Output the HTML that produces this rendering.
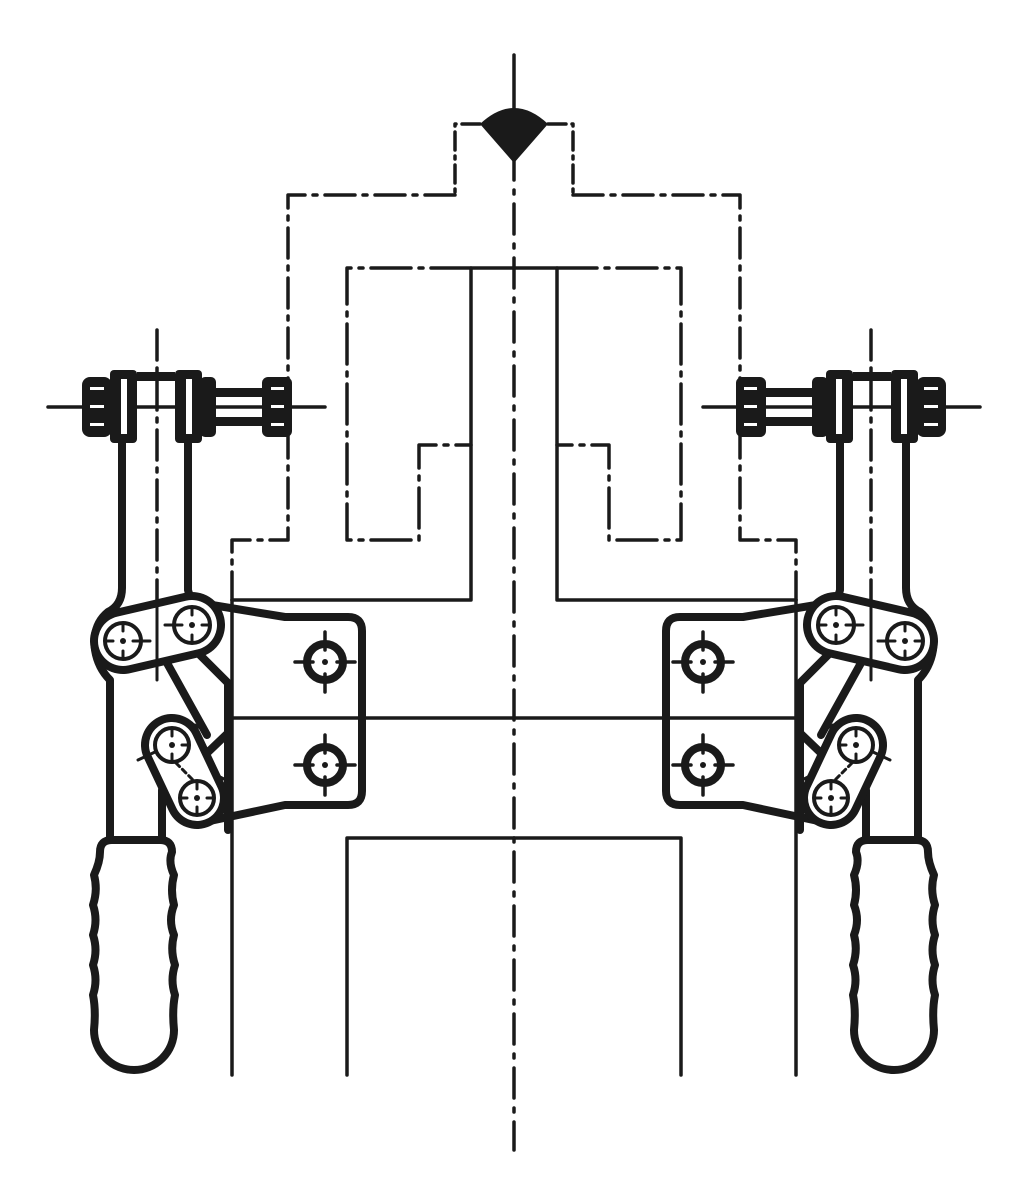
<!DOCTYPE html>
<html><head><style>html,body{margin:0;padding:0;background:#fff;}svg{display:block}</style></head>
<body>
<svg width="1027" height="1200" viewBox="0 0 1027 1200" xmlns="http://www.w3.org/2000/svg">
<defs>
<g id="half" fill="none" stroke="#1a1a1a" stroke-linecap="round" stroke-linejoin="round">
  <g stroke-width="3.5">
    <path d="M480,124 H455 V195" stroke-dasharray="18 6 3 6"/>
    <path d="M455,195 H288 V540 H232 V600" stroke-dasharray="30 8 4 8"/>
    <path d="M232,600 V1075"/>
    <path d="M471,268 H347 V540 H419 V445 H471" stroke-dasharray="40 8 4 8"/>
    <path d="M514,268 H471 V600 H232"/>
    <path d="M232,718 H514"/>
    <path d="M347,1075 V838 H514"/>
    <path d="M48,407 H325"/>
    <path d="M157,330 V600" stroke-dasharray="30 8 4 8"/>
  </g>
  <!-- bolt assembly -->
  <g fill="#1a1a1a" stroke="none">
    <rect x="82" y="377" width="30" height="60" rx="8"/>
    <rect x="110" y="370" width="27" height="73" rx="4"/>
    <rect x="175" y="370" width="27" height="73" rx="4"/>
    <rect x="200" y="377" width="16" height="60" rx="5"/>
    <rect x="262" y="377" width="30" height="60" rx="6"/>
    <rect x="137" y="372" width="38" height="9"/>
    <rect x="215" y="388" width="50" height="9"/>
    <rect x="215" y="417" width="50" height="9"/>
  </g>
  <g fill="#fff" stroke="none">
    <rect x="121" y="379" width="6" height="55"/>
    <rect x="186" y="379" width="6" height="55"/>
    <rect x="90" y="387" width="14" height="3"/><rect x="90" y="405" width="14" height="3"/><rect x="90" y="423" width="14" height="3"/>
    <rect x="271" y="387" width="13" height="3"/><rect x="271" y="405" width="13" height="3"/><rect x="271" y="423" width="13" height="3"/>
  </g>
  <!-- arm -->
  <g stroke-width="8">
    <path d="M122,443 V588 Q122,605 108,612 Q92,625 95,650 Q98,668 110,680 V838"/>
    <path d="M188,443 V590 Q190,600 200,603"/>
    <path d="M167,663 L207,735"/>
    <path d="M200,655 L228,683 V830"/>
    <path d="M205,755 L228,733"/>
    <path d="M162,790 V838"/>
    <path d="M200,603 L285,617 H348 Q362,617 362,631 V791 Q362,805 348,805 H285 L205,822"/>
    <path d="M100,852 Q100,840 112,840 H160 Q172,840 172,852 Q168,862 174,875 Q170,890 174,905 Q168,920 174,935 Q170,950 175,965 Q170,980 175,995 Q172,1010 174,1030 A40,40 0 0 1 94,1030 Q96,1010 93,995 Q98,980 93,965 Q98,950 93,935 Q98,920 93,905 Q98,890 94,875 Q100,862 100,852 Z"/>
  </g>
  <!-- knuckle belt -->
  <path d="M123,641 L192,625" stroke-width="66"/>
  <path d="M123,641 L192,625" stroke="#fff" stroke-width="50"/>
  <!-- lower slot -->
  <path d="M172,745 L197,798" stroke-width="62"/>
  <path d="M172,745 L197,798" stroke="#fff" stroke-width="46"/>
  <path d="M157,590 V680" stroke-width="3"/>
  <!-- pins -->
  <g stroke-width="4">
    <circle cx="123" cy="641" r="18"/>
    <circle cx="192" cy="625" r="18"/>
    <circle cx="172" cy="745" r="17"/>
    <circle cx="197" cy="798" r="17"/>
  </g>
  <g stroke-width="3">
    <path d="M123,624 V631 M123,651 V658 M106,641 H113 M133,641 H150"/>
    <path d="M192,608 V615 M192,635 V642 M165,625 H182 M202,625 H209"/>
    <path d="M172,729 V736 M172,754 V761 M138,760 L155,752 M182,745 H189 M195,725 L204,730"/>
    <path d="M197,782 V789 M197,807 V814 M180,798 H187 M207,798 H214 M218,776 L226,780"/>
    <path d="M176,763 L193,780" stroke-dasharray="5 4"/>
  </g>
  <g fill="#1a1a1a" stroke="none">
    <circle cx="123" cy="641" r="3"/><circle cx="192" cy="625" r="3"/>
    <circle cx="172" cy="745" r="3"/><circle cx="197" cy="798" r="3"/>
  </g>
  <!-- plate holes -->
  <g stroke-width="8">
    <circle cx="325" cy="662" r="18"/>
    <circle cx="325" cy="765" r="18"/>
  </g>
  <g stroke-width="3.5">
    <path d="M325,632 V650 M325,674 V692 M295,662 H313 M337,662 H355"/>
    <path d="M325,735 V753 M325,777 V795 M295,765 H313 M337,765 H355"/>
  </g>
  <g fill="#1a1a1a" stroke="none">
    <circle cx="325" cy="662" r="3"/><circle cx="325" cy="765" r="3"/>
  </g>
</g>
</defs>
<rect width="1027" height="1200" fill="#fff"/>
<use href="#half"/>
<use href="#half" transform="matrix(-1,0,0,1,1028,0)"/>
<g stroke="#1a1a1a" stroke-width="3.5" fill="none" stroke-linecap="round">
  <path d="M514,55 V124"/>
  <path d="M514,150 V1150" stroke-dasharray="30 10 4 10"/>
</g>
<path d="M480,124 Q514,92 548,124 L514,163 Z" fill="#1a1a1a"/>
</svg>
</body></html>
